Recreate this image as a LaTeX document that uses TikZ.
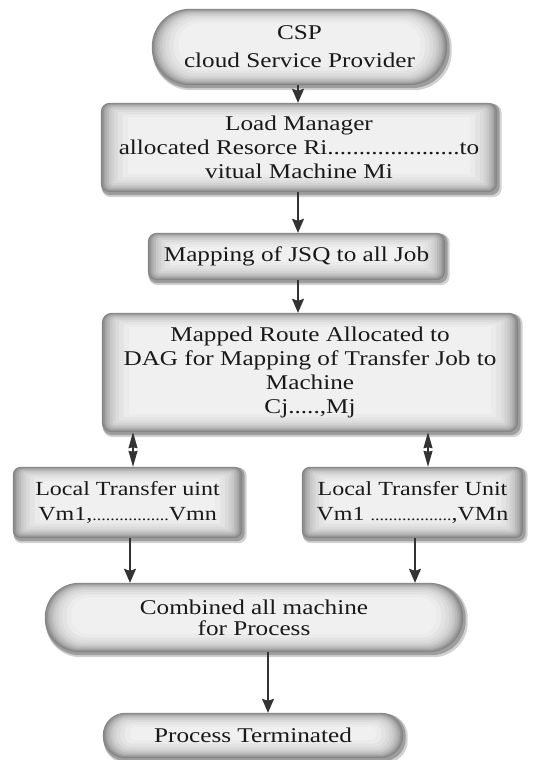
\documentclass[tikz,border=0pt]{standalone}
\usepackage{fontspec}
\setmainfont{Liberation Serif}[FakeStretch=1.2]
\usetikzlibrary{arrows.meta,calc}
\pgfdeclarelayer{bg}
\pgfsetlayers{bg,main}
\newcommand\bevelbox[2]{%
  \begin{pgfonlayer}{bg}
    \fill[black!18,rounded corners=#2 pt] ([shift={(1pt,-5pt)}]#1.south west) rectangle ([shift={(4.5pt,-1pt)}]#1.north east);
    \fill[black!38,rounded corners=#2 pt] ([shift={(0.5pt,-3pt)}]#1.south west) rectangle ([shift={(2.5pt,-0.5pt)}]#1.north east);
    \foreach \d/\c in {0/48,1/42,2/36,3/31,4/27,5.5/22,7/18,9/14,11.5/11,14.5/8,18/6}{%
      \pgfmathsetmacro\rr{max(#2-\d,0.5)}%
      \fill[black!\c,rounded corners=\rr pt] ([shift={(1.5*\d pt,\d pt)}]#1.south west) rectangle ([shift={(-1.5*\d pt,-0.8*\d pt)}]#1.north east);
    }%
  \end{pgfonlayer}}
\newcommand\nfont{\fontsize{21}{27}\selectfont}
\newcommand\dotfont{\fontsize{15}{18}\selectfont}
\tikzset{
  box/.style={inner sep=0pt,align=center,text=black!90,font=\nfont},
  arr/.style={line width=1.4pt,draw=black!80,-{Stealth[length=14pt,width=12pt,inset=2pt]}},
  darr/.style={line width=1.2pt,draw=black!80,{Stealth[length=16pt,width=9pt,inset=1pt]}-{Stealth[length=16pt,width=9pt,inset=1pt]}}
}
\begin{document}
\begin{tikzpicture}[x=1pt,y=-1pt]
\useasboundingbox (0,0) rectangle (541,760);
\begin{pgfonlayer}{bg}
\fill[white] (0,0) rectangle (541,760);
\end{pgfonlayer}
\node[box,minimum width=295pt,minimum height=76pt,font=\fontsize{21}{28}\selectfont] (csp) at (299.5,47) {CSP\\cloud Service Provider};
\node[box,minimum width=396pt,minimum height=89pt,font=\fontsize{21}{24}\selectfont] (load) at (299,147.5) {Load Manager\\allocated Resorce Ri.....................to\\vitual Machine Mi};
\node[box,minimum width=297pt,minimum height=47pt] (jsq) at (296.5,256.5) {Mapping of JSQ to all Job};
\node[box,minimum width=416pt,minimum height=119pt,font=\fontsize{21}{24}\selectfont] (mapped) at (310,372.5) {Mapped Route Allocated to\\DAG for Mapping of Transfer Job to\\Machine\\Cj.....,Mj};
\node[box,minimum width=229pt,minimum height=71pt,font=\fontsize{20}{25}\selectfont] (ltul) at (127.5,502.5) {Local Transfer uint\\Vm1,{\dotfont.................}Vmn};
\node[box,minimum width=221pt,minimum height=71pt,font=\fontsize{20}{25}\selectfont] (ltur) at (412.5,502.5) {Local Transfer Unit\\Vm1 {\dotfont..................},VMn};
\node[box,minimum width=418pt,minimum height=69pt,font=\fontsize{21}{21}\selectfont] (comb) at (254,617.5) {Combined all machine\\for Process};
\node[box,minimum width=300pt,minimum height=45pt] (pt) at (253,735.5) {Process Terminated};
\bevelbox{csp}{38}
\bevelbox{load}{9}
\bevelbox{jsq}{9}
\bevelbox{mapped}{10}
\bevelbox{ltul}{8}
\bevelbox{ltur}{8}
\bevelbox{comb}{34.5}
\bevelbox{pt}{22.5}
\draw[arr] ([xshift=-1.5pt]csp.south) -- ([xshift=-1.5pt]csp.south |- load.north);
\draw[arr] ([xshift=-1pt]load.south) -- ([xshift=-1pt]load.south |- jsq.north);
\draw[arr] ([xshift=1.5pt]jsq.south) -- ([xshift=1.5pt]jsq.south |- mapped.north);
\draw[darr] ([xshift=5.5pt]ltul.north |- mapped.south) -- ([xshift=5.5pt]ltul.north);
\draw[darr] ([xshift=15.5pt]ltur.north |- mapped.south) -- ([xshift=15.5pt]ltur.north);
\draw[arr] ([xshift=2.5pt]ltul.south) -- ([xshift=2.5pt]ltul.south |- comb.north);
\draw[arr] ([xshift=2.5pt]ltur.south) -- ([xshift=2.5pt]ltur.south |- comb.north);
\draw[arr] ([xshift=14pt]comb.south) -- ([xshift=14pt]comb.south |- pt.north);
\end{tikzpicture}
\end{document}
